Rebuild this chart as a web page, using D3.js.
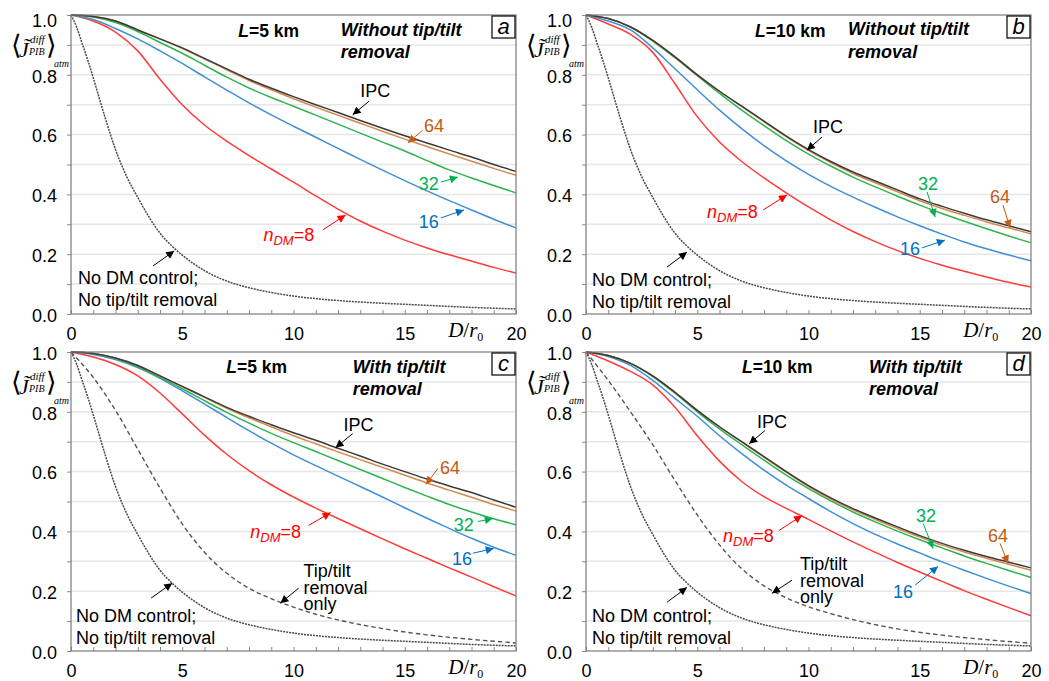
<!DOCTYPE html>
<html>
<head>
<meta charset="utf-8">
<script src="https://cdn.jsdelivr.net/npm/d3@7"></script>
<style>
  body { margin: 0; background: #fff; }
  svg text { font-family: Arial, 'Liberation Sans', sans-serif; }
  .serif { font-family: 'Liberation Serif', 'DejaVu Serif', serif; }
</style>
</head>
<body>
<div id="chart"></div>
<script>
// x values (D/r0) for the curves
const xsSolid = [0, 1, 2, 3, 4, 5, 6, 7, 8, 9, 10, 11, 12, 13, 14, 15, 16, 17, 18, 19, 20]
const xsNoCtrl = [0, 0.25, 0.5, 0.75, 1, 1.5, 2, 2.5, 3, 3.5, 4, 4.5, 5, 6, 7, 8, 9, 10, 12, 14, 16, 18, 20]
const xsTip = [0, 1, 2, 3, 4, 5, 6, 7, 8, 9, 10, 11, 12, 14, 16, 18, 20]

// no DM control, no tip/tilt removal (same in all panels)
const noCtrl = [1, 0.96, 0.905, 0.85, 0.79, 0.665, 0.55, 0.46, 0.39, 0.325, 0.27, 0.23, 0.197, 0.145, 0.11, 0.088, 0.072, 0.06, 0.045, 0.036, 0.029, 0.022, 0.017]

// tip/tilt removal only
const tipC = [1, 0.915, 0.805, 0.675, 0.545, 0.425, 0.33, 0.26, 0.21, 0.175, 0.147, 0.123, 0.104, 0.075, 0.054, 0.039, 0.027]
const tipD = [1, 0.905, 0.8, 0.69, 0.57, 0.455, 0.355, 0.275, 0.218, 0.178, 0.148, 0.125, 0.105, 0.074, 0.053, 0.038, 0.026]

// panel a: L=5 km, without tip/tilt removal
const aIpc = [1, 0.995, 0.98, 0.95, 0.92, 0.89, 0.855, 0.82, 0.785, 0.755, 0.727, 0.7, 0.674, 0.647, 0.621, 0.596, 0.572, 0.548, 0.525, 0.5, 0.477]
const aN64 = [1, 0.995, 0.98, 0.95, 0.92, 0.888, 0.853, 0.817, 0.781, 0.75, 0.72, 0.692, 0.665, 0.638, 0.611, 0.585, 0.56, 0.535, 0.511, 0.487, 0.464]
const aN32 = [1, 0.993, 0.975, 0.945, 0.908, 0.872, 0.832, 0.792, 0.756, 0.724, 0.695, 0.665, 0.635, 0.605, 0.575, 0.545, 0.513, 0.482, 0.455, 0.43, 0.405]
const aN16 = [1, 0.985, 0.955, 0.92, 0.88, 0.838, 0.793, 0.749, 0.706, 0.666, 0.628, 0.591, 0.554, 0.517, 0.481, 0.446, 0.412, 0.379, 0.348, 0.317, 0.288]
const aN8 = [1, 0.98, 0.943, 0.88, 0.785, 0.7, 0.632, 0.578, 0.53, 0.485, 0.441, 0.395, 0.351, 0.311, 0.277, 0.247, 0.221, 0.198, 0.177, 0.156, 0.137]

// panel b: L=10 km, without tip/tilt removal
const bIpc = [1, 0.988, 0.96, 0.915, 0.86, 0.8, 0.745, 0.695, 0.645, 0.595, 0.55, 0.51, 0.475, 0.445, 0.415, 0.385, 0.36, 0.337, 0.315, 0.295, 0.275]
const bN64 = [1, 0.988, 0.96, 0.915, 0.86, 0.8, 0.745, 0.694, 0.643, 0.593, 0.547, 0.506, 0.47, 0.439, 0.409, 0.379, 0.353, 0.33, 0.308, 0.288, 0.268]
const bN32 = [1, 0.988, 0.96, 0.913, 0.857, 0.797, 0.738, 0.682, 0.63, 0.58, 0.535, 0.495, 0.458, 0.425, 0.394, 0.364, 0.336, 0.31, 0.285, 0.261, 0.238]
const bN16 = [1, 0.98, 0.95, 0.89, 0.82, 0.75, 0.682, 0.62, 0.563, 0.512, 0.467, 0.427, 0.391, 0.357, 0.325, 0.295, 0.267, 0.241, 0.218, 0.197, 0.178]
const bN8 = [1, 0.97, 0.935, 0.875, 0.77, 0.66, 0.575, 0.51, 0.455, 0.405, 0.358, 0.315, 0.276, 0.242, 0.212, 0.186, 0.163, 0.143, 0.124, 0.106, 0.09]

// panel c: L=5 km, with tip/tilt removal
const cIpc = [1, 0.995, 0.98, 0.955, 0.92, 0.885, 0.85, 0.815, 0.785, 0.757, 0.73, 0.705, 0.678, 0.652, 0.625, 0.6, 0.575, 0.552, 0.53, 0.505, 0.481]
const cN64 = [1, 0.995, 0.98, 0.955, 0.92, 0.884, 0.848, 0.812, 0.78, 0.75, 0.72, 0.693, 0.666, 0.64, 0.614, 0.588, 0.562, 0.538, 0.514, 0.49, 0.468]
const cN32 = [1, 0.995, 0.978, 0.95, 0.915, 0.877, 0.837, 0.798, 0.762, 0.728, 0.697, 0.667, 0.637, 0.607, 0.577, 0.547, 0.518, 0.49, 0.465, 0.442, 0.422]
const cN16 = [1, 0.992, 0.975, 0.948, 0.912, 0.87, 0.826, 0.781, 0.737, 0.695, 0.656, 0.62, 0.585, 0.55, 0.515, 0.479, 0.444, 0.41, 0.377, 0.347, 0.32]
const cN8 = [1, 0.983, 0.958, 0.92, 0.863, 0.793, 0.722, 0.658, 0.603, 0.556, 0.515, 0.478, 0.443, 0.409, 0.375, 0.342, 0.31, 0.278, 0.247, 0.215, 0.184]

// panel d: L=10 km, with tip/tilt removal
const dIpc = [1, 0.988, 0.962, 0.92, 0.865, 0.805, 0.75, 0.7, 0.65, 0.6, 0.553, 0.512, 0.476, 0.445, 0.415, 0.386, 0.36, 0.337, 0.316, 0.297, 0.278]
const dN64 = [1, 0.988, 0.962, 0.92, 0.865, 0.805, 0.75, 0.699, 0.648, 0.598, 0.55, 0.508, 0.472, 0.44, 0.41, 0.381, 0.354, 0.331, 0.31, 0.29, 0.27]
const dN32 = [1, 0.988, 0.962, 0.918, 0.862, 0.8, 0.743, 0.69, 0.638, 0.588, 0.543, 0.502, 0.465, 0.432, 0.401, 0.372, 0.345, 0.318, 0.293, 0.269, 0.246]
const dN16 = [1, 0.985, 0.955, 0.905, 0.845, 0.785, 0.72, 0.66, 0.605, 0.555, 0.51, 0.466, 0.426, 0.39, 0.358, 0.328, 0.298, 0.27, 0.243, 0.217, 0.192]
const dN8 = [1, 0.97, 0.935, 0.89, 0.815, 0.72, 0.635, 0.567, 0.516, 0.477, 0.44, 0.402, 0.365, 0.33, 0.296, 0.264, 0.233, 0.202, 0.173, 0.145, 0.118]

// tick labels
const xTickLabels = [0, 5, 10, 15, 20]
const yTickLabels = [0, 0.2, 0.4, 0.6, 0.8, 1.0]

const lineColor = { ipc: '#3b3b3b', n64: '#d38a4e', n32: '#2fb351', n16: '#3f8fd6', n8: '#ff3b3b' }
const textColor = { ipc: '#000', n64: '#c55a11', n32: '#00b050', n16: '#0070c0', n8: '#ff0000' }

// annotations, in data units (D/r0, value)
const notesA = [
  { key: 'ipc', text: 'IPC', at: [13.0, 0.726], from: [13.4, 0.712], to: [12.66, 0.666] },
  { key: 'n64', text: '64', at: [15.86, 0.609], from: [15.81, 0.615], to: [15.14, 0.572] },
  { key: 'n32', text: '32', at: [15.63, 0.415], from: [16.62, 0.441], to: [17.39, 0.458] },
  { key: 'n16', text: '16', at: [15.63, 0.288], from: [16.62, 0.321], to: [17.66, 0.348] },
  { key: 'n8', text: 'n8', at: [8.65, 0.244], from: [11.31, 0.281], to: [12.34, 0.331] },
  { key: 'ipc', text: null, from: [3.69, 0.161], to: [4.64, 0.211] }
]
const notesB = [
  { key: 'ipc', text: 'IPC', at: [10.2, 0.605], from: [10.61, 0.592], to: [9.93, 0.548] },
  { key: 'n32', text: '32', at: [14.92, 0.415], from: [15.33, 0.408], to: [15.69, 0.324] },
  { key: 'n64', text: '64', at: [18.16, 0.371], from: [18.74, 0.365], to: [19.06, 0.288] },
  { key: 'n16', text: '16', at: [14.11, 0.197], from: [15.1, 0.221], to: [16.13, 0.247] },
  { key: 'n8', text: 'n8', at: [5.44, 0.321], from: [7.96, 0.348], to: [9.03, 0.398] },
  { key: 'ipc', text: null, from: [3.64, 0.157], to: [4.54, 0.207] }
]
const notesC = [
  { key: 'ipc', text: 'IPC', at: [12.25, 0.737], from: [12.66, 0.727], to: [11.89, 0.68] },
  { key: 'n64', text: '64', at: [16.58, 0.593], from: [16.49, 0.61], to: [15.95, 0.557] },
  { key: 'n32', text: '32', at: [17.2, 0.403], from: [18.29, 0.433], to: [18.96, 0.443] },
  { key: 'n16', text: '16', at: [17.12, 0.287], from: [18.06, 0.327], to: [19.0, 0.343] },
  { key: 'n8', text: 'n8', at: [8.06, 0.377], from: [10.68, 0.42], to: [11.67, 0.463] },
  { key: 'ipc', text: ['Tip/tilt', 'removal', 'only'], at: [10.45, 0.247], from: [10.23, 0.21], to: [9.41, 0.16] },
  { key: 'ipc', text: null, from: [3.6, 0.177], to: [4.55, 0.227] }
]
const notesD = [
  { key: 'ipc', text: 'IPC', at: [7.69, 0.747], from: [8.04, 0.737], to: [7.33, 0.693] },
  { key: 'n32', text: '32', at: [14.83, 0.43], from: [15.15, 0.427], to: [15.6, 0.343] },
  { key: 'n64', text: '64', at: [18.07, 0.363], from: [18.61, 0.36], to: [18.97, 0.293] },
  { key: 'n16', text: '16', at: [13.8, 0.177], from: [14.79, 0.22], to: [15.82, 0.283] },
  { key: 'n8', text: 'n8', at: [6.16, 0.363], from: [8.67, 0.403], to: [9.71, 0.453] },
  { key: 'ipc', text: ['Tip/tilt', 'removal', 'only'], at: [9.62, 0.27], from: [9.26, 0.237], to: [8.36, 0.193] },
  { key: 'ipc', text: null, from: [3.64, 0.163], to: [4.54, 0.213] }
]

const panels = [
  { id: 'a', left: 71, top: 15, L: '5', mode: 'Without', title: [7.52, 0.926], sub: [12.12, 0.93], noDm: [0.32, 0.1],
    curves: { ipc: aIpc, n64: aN64, n32: aN32, n16: aN16, n8: aN8 }, tip: null, notes: notesA },
  { id: 'b', left: 586, top: 15, L: '10', mode: 'Without', title: [7.6, 0.926], sub: [11.78, 0.933], noDm: [0.27, 0.093],
    curves: { ipc: bIpc, n64: bN64, n32: bN32, n16: bN16, n8: bN8 }, tip: null, notes: notesB },
  { id: 'c', left: 71, top: 352, L: '5', mode: 'With', title: [6.98, 0.93], sub: [12.66, 0.93], noDm: [0.23, 0.097],
    curves: { ipc: cIpc, n64: cN64, n32: cN32, n16: cN16, n8: cN8 }, tip: tipC, notes: notesC },
  { id: 'd', left: 586, top: 352, L: '10', mode: 'With', title: [7.01, 0.93], sub: [12.72, 0.93], noDm: [0.27, 0.097],
    curves: { ipc: dIpc, n64: dN64, n32: dN32, n16: dN16, n8: dN8 }, tip: tipD, notes: notesD }
]

const dims = { width: 1049, height: 681, plotW: 445, plotH: 299 }

const svg = d3.select('#chart')
  .append('svg')
  .attr('width', dims.width)
  .attr('height', dims.height)

// arrow heads, one per colour
const defs = svg.append('defs')
Object.keys(textColor).forEach(k => {
  defs.append('marker')
    .attr('id', 'arr-' + k)
    .attr('viewBox', '0 0 10 10')
    .attr('refX', 10).attr('refY', 5)
    .attr('markerWidth', 10).attr('markerHeight', 8)
    .attr('markerUnits', 'userSpaceOnUse')
    .attr('orient', 'auto')
    .append('path')
    .attr('d', 'M0,0 L10,5 L0,10 z')
    .attr('fill', textColor[k])
})

panels.forEach(drawPanel)

function drawPanel(p) {
  const right = p.left + dims.plotW
  const bottom = p.top + dims.plotH

  const xScale = d3.scaleLinear().domain([0, 20]).range([p.left, right])
  const yScale = d3.scaleLinear().domain([0, 1]).range([bottom, p.top])

  const g = svg.append('g')

  // grid
  g.append('g')
    .selectAll('line')
    .data(yScale.ticks(10).filter(d => d > 0 && d < 1))
    .join('line')
    .attr('x1', p.left).attr('x2', right)
    .attr('y1', d => yScale(d)).attr('y2', d => yScale(d))
    .attr('stroke', '#e6e6e6')
    .attr('stroke-width', 1.5)

  // x ticks (inside) and labels
  const xMinor = d3.axisBottom(xScale).tickValues(d3.range(0, 21)).tickSize(-4).tickFormat('')
  g.append('g')
    .attr('transform', `translate(0, ${bottom})`)
    .call(xMinor)
    .call(a => a.select('.domain').remove())
    .call(a => a.selectAll('line').attr('stroke', '#8a8a8a'))

  const xAxis = d3.axisBottom(xScale).tickValues(xTickLabels).tickSize(0).tickPadding(13)
  g.append('g')
    .attr('transform', `translate(0, ${bottom})`)
    .call(xAxis)
    .call(a => a.select('.domain').remove())
    .call(a => a.selectAll('text').attr('font-size', 18).attr('fill', '#000').attr('font-family', 'Arial, Liberation Sans'))

  // y ticks (outside) and labels
  const yAxis = d3.axisLeft(yScale)
    .ticks(10)
    .tickSize(4)
    .tickPadding(10)
    .tickFormat(d => yTickLabels.some(v => Math.abs(v - d) < 1e-6) ? d3.format('.1f')(d) : '')
  g.append('g')
    .attr('transform', `translate(${p.left}, 0)`)
    .call(yAxis)
    .call(a => a.select('.domain').remove())
    .call(a => a.selectAll('line').attr('stroke', '#8a8a8a'))
    .call(a => a.selectAll('text')
      .attr('font-size', 18).attr('fill', '#000').attr('font-family', 'Arial, Liberation Sans')
      .attr('dy', d => (p.top < 100 && d === 1) ? '0.65em' : '0.4em'))

  // D/r0 label
  const xl = g.append('text')
    .attr('class', 'serif')
    .attr('x', xScale(16.95))
    .attr('y', bottom + 23)
    .attr('font-size', 21)
  xl.append('tspan').attr('font-style', 'italic').text('D')
  xl.append('tspan').text('/')
  xl.append('tspan').attr('font-style', 'italic').text('r')
  xl.append('tspan').attr('font-size', 12).attr('dy', 4).text('0')

  // y label, one text element built from pieces
  const ox = p.left - 59
  const yl = g.append('text').attr('class', 'serif')
  yl.append('tspan').attr('x', ox - 1).attr('y', p.top + 39).attr('font-size', 27).text('⟨')
  yl.append('tspan').attr('x', ox + 7).attr('y', p.top + 42).attr('font-size', 22).attr('font-style', 'italic').text('J\u0303')
  yl.append('tspan').attr('x', ox + 18).attr('y', p.top + 28).attr('font-size', 11).attr('font-style', 'italic').text('diff')
  yl.append('tspan').attr('x', ox + 17).attr('y', p.top + 40).attr('font-size', 10).attr('font-style', 'italic').text('PIB')
  yl.append('tspan').attr('x', ox + 34).attr('y', p.top + 39).attr('font-size', 27).attr('font-style', 'normal').text('⟩')
  yl.append('tspan').attr('x', ox + 42).attr('y', p.top + 52).attr('font-size', 10).attr('font-style', 'italic').text('atm')

  // curves
  const line = (xs) => d3.line()
    .x((d, i) => xScale(xs[i]))
    .y(d => yScale(d))
    .curve(d3.curveMonotoneX)

  g.append('path')
    .attr('d', line(xsNoCtrl)(noCtrl))
    .attr('fill', 'none')
    .attr('stroke', '#4a4a4a')
    .attr('stroke-width', 1.5)
    .attr('stroke-dasharray', '2,1')

  if (p.tip) {
    g.append('path')
      .attr('d', line(xsTip)(p.tip))
      .attr('fill', 'none')
      .attr('stroke', '#555')
      .attr('stroke-width', 1.4)
      .attr('stroke-dasharray', '4.5,3')
  }

  ;['n8', 'n16', 'n32', 'n64', 'ipc'].forEach(k => {
    g.append('path')
      .attr('d', line(xsSolid)(p.curves[k]))
      .attr('fill', 'none')
      .attr('stroke', lineColor[k])
      .attr('stroke-width', 1.5)
  })

  // frame
  g.append('rect')
    .attr('x', p.left).attr('y', p.top)
    .attr('width', dims.plotW).attr('height', dims.plotH)
    .attr('fill', 'none')
    .attr('stroke', '#7a7a7a')
    .attr('stroke-width', 1.2)

  // titles
  const t = g.append('text')
    .attr('x', xScale(p.title[0])).attr('y', yScale(p.title[1]))
    .attr('font-size', 17.5).attr('font-weight', 'bold')
  t.append('tspan').attr('font-style', 'italic').text('L')
  t.append('tspan').text(`=${p.L} km`)

  const s = g.append('text')
    .attr('x', xScale(p.sub[0])).attr('y', yScale(p.sub[1]))
    .attr('font-size', 18).attr('font-weight', 'bold').attr('font-style', 'italic')
  s.append('tspan').text(`${p.mode} tip/tilt`)
  s.append('tspan').attr('x', xScale(p.sub[0])).attr('dy', 22.5).text('removal')

  // panel letter
  g.append('rect')
    .attr('x', right - 24).attr('y', p.top + 1)
    .attr('width', 23).attr('height', 22)
    .attr('fill', '#fff').attr('stroke', '#000').attr('stroke-width', 1.2)
  g.append('text')
    .attr('x', right - 12.5).attr('y', p.top + 19)
    .attr('text-anchor', 'middle')
    .attr('font-size', 22).attr('font-style', 'italic')
    .text(p.id)

  // "No DM control" text
  const nd = g.append('text')
    .attr('x', xScale(p.noDm[0])).attr('y', yScale(p.noDm[1]))
    .attr('font-size', 18)
  nd.append('tspan').text('No DM control;')
  nd.append('tspan').attr('x', xScale(p.noDm[0])).attr('dy', 22).text('No tip/tilt removal')

  // annotations
  p.notes.forEach(n => {
    g.append('line')
      .attr('x1', xScale(n.from[0])).attr('y1', yScale(n.from[1]))
      .attr('x2', xScale(n.to[0])).attr('y2', yScale(n.to[1]))
      .attr('stroke', textColor[n.key])
      .attr('stroke-width', 1)
      .attr('marker-end', `url(#arr-${n.key})`)

    if (!n.text) return
    const tx = g.append('text')
      .attr('x', xScale(n.at[0])).attr('y', yScale(n.at[1]))
      .attr('font-size', 18)
      .attr('fill', textColor[n.key])
    if (n.text === 'n8') {
      tx.append('tspan').attr('font-style', 'italic').text('n')
      tx.append('tspan').attr('font-style', 'italic').attr('font-size', 13).attr('dy', 4).text('DM')
      tx.append('tspan').attr('dy', -4).text('=8')
    } else if (Array.isArray(n.text)) {
      n.text.forEach((s, i) => {
        tx.append('tspan').attr('x', xScale(n.at[0])).attr('dy', i ? 16.5 : 0).text(s)
      })
    } else {
      tx.text(n.text)
    }
  })
}
</script>
</body>
</html>
